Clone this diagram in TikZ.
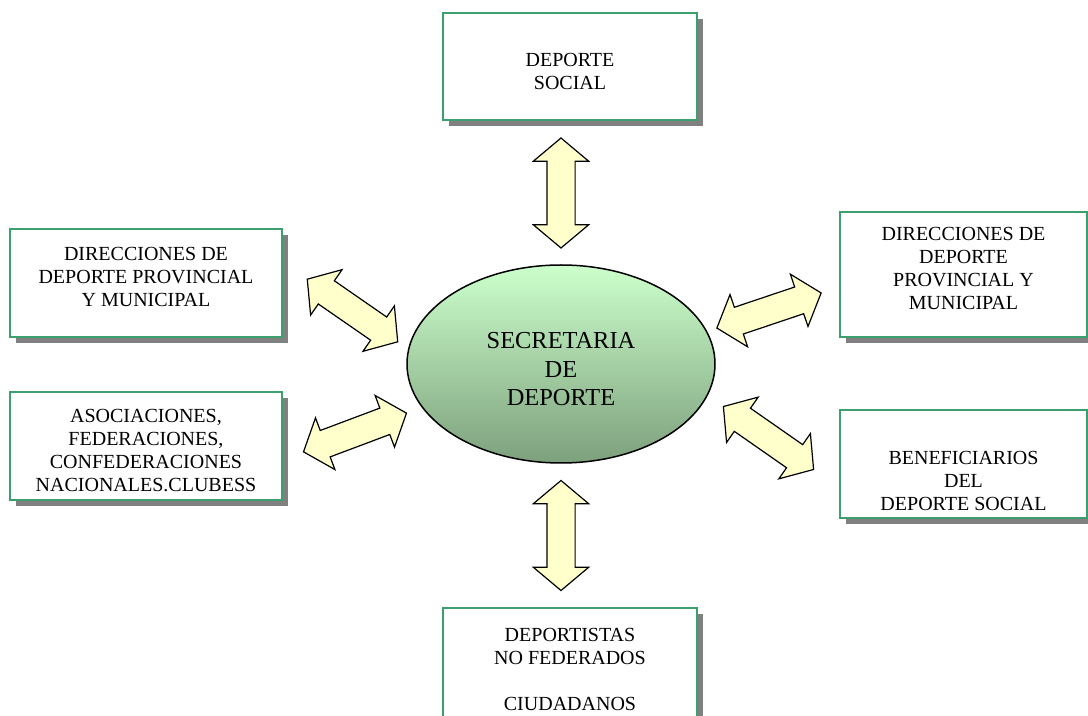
\documentclass[tikz,border=0pt]{standalone}
\usepackage{fontspec}
\setmainfont{Liberation Serif}
\usepackage{xcolor}
\usetikzlibrary{shapes.geometric}
\usetikzlibrary{shapes.arrows}
\usetikzlibrary{shadows}
\definecolor{verdecaja}{RGB}{60,160,110}
\definecolor{verdeclaro}{RGB}{204,255,204}
\definecolor{verdeoscuro}{RGB}{125,160,125}
\definecolor{amarillo}{RGB}{255,255,204}
\newcommand{\bajar}[1]{\rule{0pt}{#1}}

\begin{document}
\begin{tikzpicture}[x=0.5pt,y=-0.5pt,
      caja/.style={draw=verdecaja, line width=1pt, fill=white, align=center,
        inner sep=0pt, font=\fontsize{10}{11.5}\selectfont,
        drop shadow={shadow xshift=3pt, shadow yshift=-3pt, fill=black!50, opacity=1}},
      flecha/.style={double arrow, draw=black, line width=0.6pt, fill=amarillo,
        double arrow head extend=6.75pt, double arrow tip angle=100,
        minimum height=55pt, inner xsep=0pt, inner ysep=6.75pt}]
      \useasboundingbox (0,0) rectangle (1088,716);

      \node[ellipse, draw, line width=0.75pt, top color=verdeclaro, bottom color=verdeoscuro,
        minimum width=154pt, minimum height=99pt, align=center,
        font=\fontsize{12.2}{14.25}\selectfont] (sec) at (561,364)
        {\bajar{13.4pt}SECRETARIA\\DE\\DEPORTE};

      \node[caja, minimum width=127pt, minimum height=53.5pt] (soc) at (570,66.5)
        {\bajar{11.6pt}DEPORTE\\SOCIAL};
      \node[caja, minimum width=136pt, minimum height=54pt] (dirizq) at (146,283)
        {\bajar{11.6pt}DIRECCIONES DE\\DEPORTE PROVINCIAL\\Y MUNICIPAL\\ \mbox{}};
      \node[caja, minimum width=136pt, minimum height=54pt] (asoc) at (146,446)
        {\bajar{11.6pt}ASOCIACIONES,\\FEDERACIONES,\\CONFEDERACIONES\\NACIONALES.CLUBESS};
      \node[caja, minimum width=123.5pt, minimum height=62.5pt] (dirder) at (963.5,274.5)
        {\bajar{11.6pt}DIRECCIONES DE\\DEPORTE\\PROVINCIAL Y\\MUNICIPAL\\ \mbox{}};
      \node[caja, minimum width=123.5pt, minimum height=54pt] (benef) at (963.5,464)
        {\bajar{11.6pt}\\BENEFICIARIOS\\DEL\\DEPORTE SOCIAL};
      \node[caja, minimum width=127pt, minimum height=56pt] (depnf) at (570,664)
        {\bajar{11.6pt}DEPORTISTAS\\NO FEDERADOS\\ \mbox{}\\CIUDADANOS};

      \node[flecha, rotate=90] (f-soc) at (561,193) {};
      \node[flecha, rotate=90] (f-depnf) at (561,535.5) {};
      \node[flecha, rotate=-34.7] (f-dirizq) at (352.5,310.5) {};
      \node[flecha, rotate=20.6] (f-asoc) at (355,432.5) {};
      \node[flecha, rotate=18.6] (f-dirder) at (769,310.5) {};
      \node[flecha, rotate=-34.9] (f-benef) at (768.5,438) {};
    \end{tikzpicture}
\end{document}
